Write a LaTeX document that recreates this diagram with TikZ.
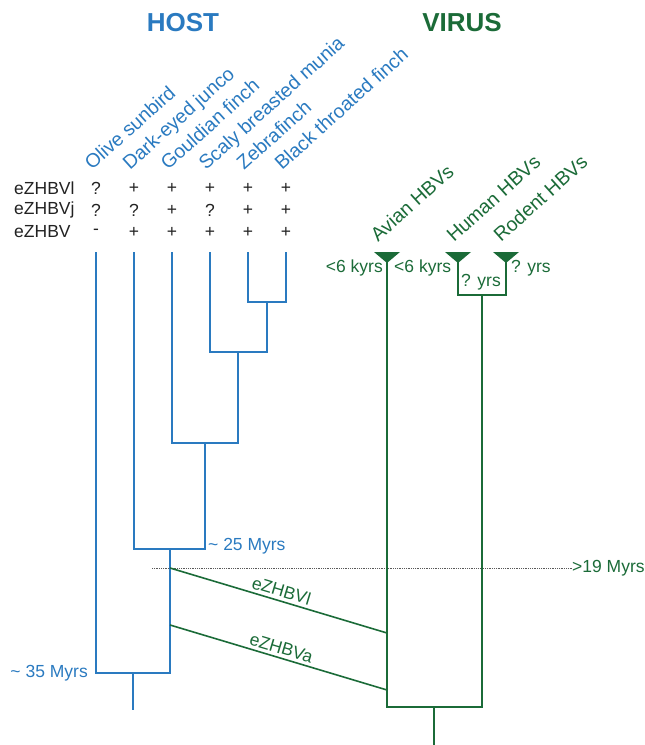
\documentclass[tikz,border=0pt]{standalone}
\usepackage{fontspec}
\setmainfont{Liberation Sans}
\usepackage{xcolor}
\usepackage{tikz}
\definecolor{hostblue}{HTML}{2A7AC0}
\definecolor{virusgreen}{HTML}{1B6B38}
\definecolor{textgray}{HTML}{222222}

\begin{document}
\begin{tikzpicture}[x=1pt, y=-1pt, font=\fontsize{17.5}{20}\selectfont]
    \tikzstyle{title} = [font=\fontsize{26}{28}\selectfont\bfseries, inner sep=0pt]
    \tikzstyle{hostline} = [draw=hostblue, line width=1.6pt]
    \tikzstyle{virusline} = [draw=virusgreen, line width=1.6pt]
    \tikzstyle{species} = [rotate=42, anchor=base west, inner sep=0pt, text=hostblue, font=\fontsize{19.5}{22}\selectfont]
    \tikzstyle{lineage} = [rotate=42, anchor=base west, inner sep=0pt, text=virusgreen, font=\fontsize{19.5}{22}\selectfont]
    \tikzstyle{rowlabel} = [anchor=west, inner sep=0pt, text=textgray]
    \tikzstyle{cell} = [inner sep=0pt, text=textgray]
    \tikzstyle{age} = [inner sep=0pt, text=virusgreen]

    \useasboundingbox (0,0) rectangle (645,745);

    \node (host) [title, text=hostblue] at (183,23) {HOST};
    \node (virus) [title, text=virusgreen] at (462,23) {VIRUS};

    % host species
    \node (sp1) [species] at (92,171) {Olive sunbird};
    \node (sp2) [species] at (130,171) {Dark-eyed junco};
    \node (sp3) [species] at (168,171) {Gouldian finch};
    \node (sp4) [species] at (206,171) {Scaly breasted munia};
    \node (sp5) [species] at (244,171) {Zebrafinch};
    \node (sp6) [species] at (282,171) {Black throated finch};

    % presence table
    \node (rowl) [rowlabel] at (14,188) {eZHBVl};
    \node (rowj) [rowlabel] at (14,210) {eZHBVj};
    \node (rowz) [rowlabel] at (14,232) {eZHBV};
    \foreach \x/\s [count=\i] in {96/?,134/+,172/+,210/+,248/+,286/+}
        \node (cl\i) [cell] at (\x,188) {\s};
    \foreach \x/\s [count=\i] in {96/?,134/?,172/+,210/?,248/+,286/+}
        \node (cj\i) [cell] at (\x,210) {\s};
    \foreach \x/\s [count=\i] in {96/-,134/+,172/+,210/+,248/+,286/+}
        \node (cz\i) [cell] at (\x,232) {\s};

    % host tree
    \coordinate (t1) at (96,252);
    \coordinate (t2) at (134,252);
    \coordinate (t3) at (172,252);
    \coordinate (t4) at (210,252);
    \coordinate (t5) at (248,252);
    \coordinate (t6) at (286,252);
    \coordinate (n1) at (267,302);
    \coordinate (n2) at (238,352);
    \coordinate (n3) at (205,443);
    \coordinate (n4) at (170,549);
    \coordinate (n5) at (133,673);
    \coordinate (hroot) at (133,710);

    \draw [hostline] (t5) |- (n1) -| (t6);
    \draw [hostline] (t4) |- (n2) -| (n1);
    \draw [hostline] (t3) |- (n3) -| (n2);
    \draw [hostline] (t2) |- (n4) -| (n3);
    \draw [hostline] (t1) |- (n5) -| (n4);
    \draw [hostline] (n5) -- (hroot);

    \node (myr25) [anchor=west, inner sep=0pt, text=hostblue] at (208,546) {\textasciitilde{} 25 Myrs};
    \node (myr35) [anchor=east, inner sep=0pt, text=hostblue] at (88,673) {\textasciitilde{} 35 Myrs};

    % time line
    \coordinate (dotl) at (152,568);
    \node (myr19) [anchor=west, inner sep=0pt, text=virusgreen] at (572,568) {>19 Myrs};
    \draw [gray!70!black, densely dotted, line width=0.8pt] (dotl) -- (myr19.west) ++(-6,0);

    % virus lineages
    \node (avian) [lineage] at (378,243) {Avian HBVs};
    \node (human) [lineage] at (454,243) {Human HBVs};
    \node (rodent) [lineage] at (501,243) {Rodent HBVs};

    \coordinate (av) at (387,252);
    \coordinate (hu) at (458,252);
    \coordinate (ro) at (506,252);
    \coordinate (vn1) at (482,295);
    \coordinate (vn2) at (434,707);
    \coordinate (vroot) at (434,745);

    \fill [virusgreen] (av) ++(-13,0) -- ++(26,0) -- ++(-13,11) -- cycle;
    \fill [virusgreen] (hu) ++(-13,0) -- ++(26,0) -- ++(-13,11) -- cycle;
    \fill [virusgreen] (ro) ++(-13,0) -- ++(26,0) -- ++(-13,11) -- cycle;

    \draw [virusline] (hu) |- (vn1) -| (ro);
    \draw [virusline] (av) |- (vn2) -| (vn1);
    \draw [virusline] (vn2) -- (vroot);

    \node (kyr1) [age, anchor=east] at (383,268) {<6 kyrs};
    \node (kyr2) [age, anchor=west] at (394,268) {<6 kyrs};
    \node (yrs1) [age] at (481,282) {? yrs};
    \node (yrs2) [age, anchor=west] at (511,268) {? yrs};

    % endogenous insertions
    \coordinate (e1s) at (170,568);
    \coordinate (e1t) at (387,633);
    \coordinate (e2s) at (170,625);
    \coordinate (e2t) at (387,690);
    \draw [virusline] (e1s) -- node (ezl) [age, above=3pt, sloped] {eZHBVl} (e1t);
    \draw [virusline] (e2s) -- node (eza) [age, above=3pt, sloped] {eZHBVa} (e2t);
\end{tikzpicture}
\end{document}
